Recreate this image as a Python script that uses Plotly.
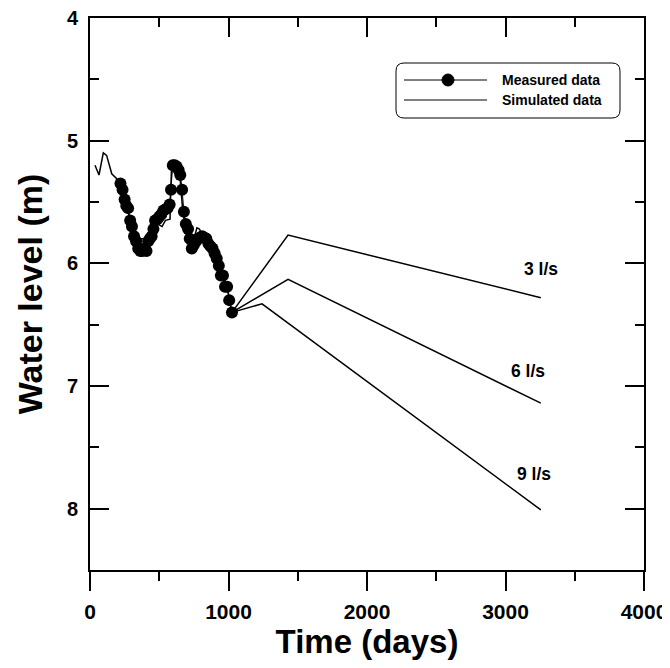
import plotly.graph_objects as go

# Measured water level (days, m)
meas_t = [220, 235, 250, 262, 275, 290, 303, 318, 333, 348, 363, 378, 393, 408, 420, 432, 445, 458,
          470, 485, 500, 515, 530, 545, 560, 575, 585, 598, 612, 625, 640, 652, 665, 678, 692, 708,
          720, 735, 750, 765, 780, 795, 810, 825, 840, 855, 870, 885, 900, 915, 930, 945, 960, 975,
          990, 1005, 1025]
meas_v = [5.35, 5.40, 5.48, 5.53, 5.55, 5.65, 5.70, 5.78, 5.82, 5.88, 5.90, 5.90, 5.88, 5.90, 5.82,
          5.80, 5.78, 5.72, 5.65, 5.64, 5.62, 5.60, 5.57, 5.56, 5.55, 5.52, 5.40, 5.20, 5.20, 5.21,
          5.24, 5.28, 5.40, 5.58, 5.68, 5.72, 5.80, 5.88, 5.85, 5.82, 5.80, 5.79, 5.78, 5.79, 5.80,
          5.84, 5.86, 5.88, 5.92, 5.96, 6.02, 6.10, 6.10, 6.19, 6.19, 6.30, 6.40]

# Simulated (calibration period)
sim_t = [36, 65, 96, 120, 157, 193, 230, 262, 300, 325, 345, 370, 400, 430, 460, 490, 520, 545,
         565, 578, 583, 590, 615, 630, 650, 668, 690, 710, 735, 755, 772, 790, 810, 840, 855, 880,
         910, 940, 970, 1000, 1025]
sim_v = [5.20, 5.28, 5.10, 5.12, 5.27, 5.31, 5.40, 5.52, 5.68, 5.78, 5.82, 5.80, 5.80, 5.79, 5.72,
         5.68, 5.70, 5.65, 5.64, 5.64, 5.40, 5.18, 5.18, 5.20, 5.30, 5.55, 5.72, 5.80, 5.80, 5.78,
         5.71, 5.72, 5.77, 5.77, 5.81, 5.85, 5.90, 6.00, 6.12, 6.25, 6.40]

# Pumping scenarios (prediction)
scen_t = [1025, 1430, 3255]
scen_3 = [6.40, 5.77, 6.28]
scen_6 = [6.40, 6.13, 7.14]
scen_9_t = [1025, 1242, 3255]
scen_9 = [6.40, 6.33, 8.01]
scen_labels = ["3 l/s", "6 l/s", "9 l/s"]
label_t = [3255, 3161, 3209]
label_v = [6.05, 6.88, 7.72]

legend_names = ["Measured data", "Simulated data"]

FONT = "Liberation Sans, Arial, sans-serif"

# figure geometry (the page adds an 8px body margin)
OFF = 8
W, H = 662, 652
L, R, T, B = 82, 26, 10, 90
PW, PH = W - L - R, H - T - B


def px(xp):
    return (xp - OFF - L) / PW


def py(yp):
    return (H - B - (yp - OFF)) / PH


fig = go.Figure()
fig.add_trace(go.Scatter(x=meas_t, y=meas_v, mode="lines+markers", name=legend_names[0],
                         showlegend=False,
                         line=dict(color="black", width=1),
                         marker=dict(color="black", size=12)))
fig.add_trace(go.Scatter(x=sim_t, y=sim_v, mode="lines", name=legend_names[1], showlegend=False,
                         line=dict(color="black", width=1.5)))
for tt, vv in [(scen_t, scen_3), (scen_t, scen_6), (scen_9_t, scen_9)]:
    fig.add_trace(go.Scatter(x=tt, y=vv, mode="lines", showlegend=False,
                             line=dict(color="black", width=1.5)))
# empty trace for mirrored axes
fig.add_trace(go.Scatter(x=[], y=[], xaxis="x2", yaxis="y2", showlegend=False))

for lab, lt, lv in zip(scen_labels, label_t, label_v):
    fig.add_annotation(x=lt, y=lv, text=lab, showarrow=False,
                       font=dict(family=FONT, size=17.5, color="black", weight="bold"))

# legend: rounded box + sample lines + labels
x0, x1 = px(396), px(620)
y0, y1 = py(118), py(63)
rx, ry = 8 / PW, 8 / PH
path = (f"M{x0+rx},{y1} L{x1-rx},{y1} Q{x1},{y1} {x1},{y1-ry} L{x1},{y0+ry} Q{x1},{y0} {x1-rx},{y0} "
        f"L{x0+rx},{y0} Q{x0},{y0} {x0},{y0+ry} L{x0},{y1-ry} Q{x0},{y1} {x0+rx},{y1} Z")
fig.add_shape(type="path", path=path, xref="paper", yref="paper",
              line=dict(color="black", width=1), fillcolor="white", layer="below")
for i, (name, rowy) in enumerate(zip(legend_names, [80, 100])):
    fig.add_shape(type="line", xref="paper", yref="paper", x0=px(404), x1=px(487),
                  y0=py(rowy), y1=py(rowy), line=dict(color="black", width=1))
    if i == 0:
        fig.add_shape(type="circle", xref="paper", yref="paper",
                      x0=px(448 - 6), x1=px(448 + 6), y0=py(rowy + 6), y1=py(rowy - 6),
                      fillcolor="black", line=dict(color="black", width=1))
    fig.add_annotation(xref="paper", yref="paper", x=px(500), y=py(rowy), text=name,
                       showarrow=False, xanchor="left", yanchor="middle",
                       font=dict(family=FONT, size=14, color="black", weight="bold"))

axis_common = dict(showline=True, linecolor="black", linewidth=2, showgrid=False, zeroline=False,
                   tickcolor="black", tickwidth=1.5, ticklen=19, automargin=False,
                   ticklabeloverflow="allow")
fig.update_layout(
    width=W, height=H,
    margin=dict(l=L, r=R, t=T, b=B),
    plot_bgcolor="white", paper_bgcolor="white",
    font=dict(family=FONT, color="black"),
    xaxis=dict(range=[0, 4000], tick0=0, dtick=1000, ticks="outside",
               minor=dict(dtick=500, ticks="outside", ticklen=9, tickcolor="black", tickwidth=1.5),
               tickfont=dict(family=FONT, size=21, weight="bold"), ticklabelstandoff=3,
               title=dict(text="Time (days)", font=dict(family=FONT, size=33, weight="bold"), standoff=6),
               **axis_common),
    yaxis=dict(range=[8.5, 4], tick0=4, dtick=1, ticks="inside",
               minor=dict(dtick=0.5, ticks="inside", ticklen=9, tickcolor="black", tickwidth=1.5),
               tickfont=dict(family=FONT, size=20, weight="bold"), ticklabelstandoff=6,
               title=dict(text="Water level (m)", font=dict(family=FONT, size=34, weight="bold"), standoff=14),
               **axis_common),
    xaxis2=dict(overlaying="x", side="top", matches="x", anchor="y", showticklabels=False,
                tick0=0, dtick=1000, ticks="inside",
                minor=dict(dtick=500, ticks="inside", ticklen=9, tickcolor="black", tickwidth=1.5),
                **axis_common),
    yaxis2=dict(overlaying="y", side="right", matches="y", anchor="x", showticklabels=False,
                tick0=4, dtick=1, ticks="inside",
                minor=dict(dtick=0.5, ticks="inside", ticklen=9, tickcolor="black", tickwidth=1.5),
                **axis_common),
    showlegend=False,
)

fig.write_html("out.html")
